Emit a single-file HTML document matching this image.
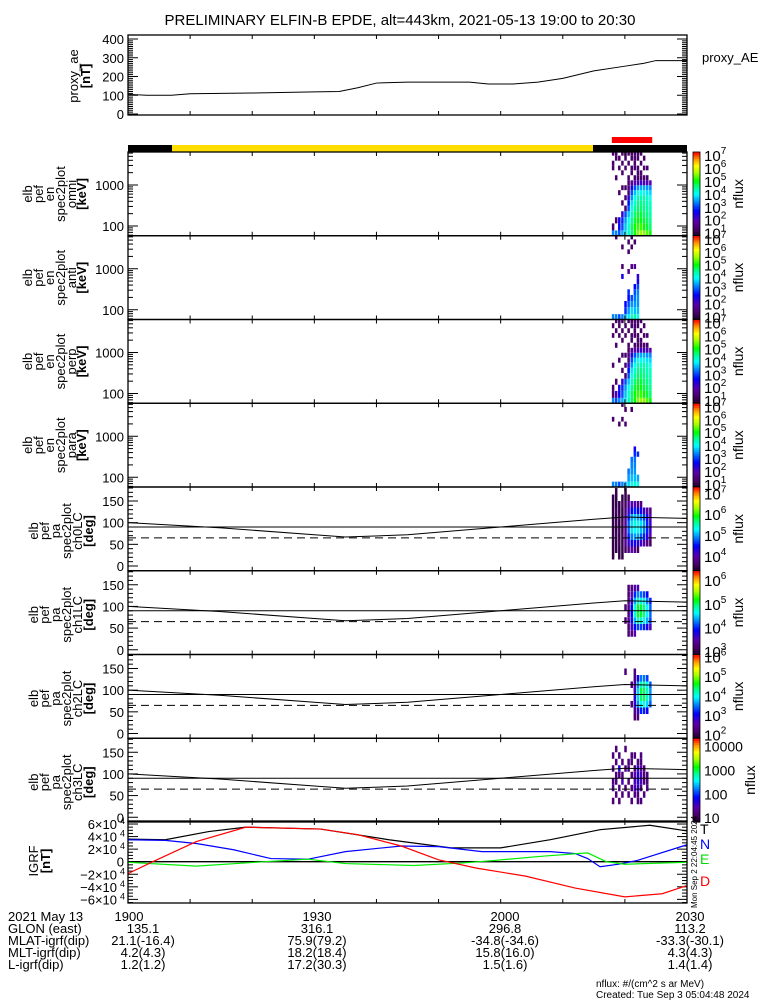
<!DOCTYPE html>
<html><head><meta charset="utf-8"><style>
html,body{margin:0;padding:0;background:#fff;}
svg{display:block;font-family:"Liberation Sans",sans-serif;}
</style></head><body>
<svg id="chart" width="775" height="1000" viewBox="0 0 775 1000" xmlns="http://www.w3.org/2000/svg">
<rect x="0" y="0" width="775" height="1000" fill="#fff"/>
<text x="400" y="25" font-size="15" text-anchor="middle">PRELIMINARY ELFIN-B EPDE, alt=443km, 2021-05-13 19:00 to 20:30</text>
</svg>
<script>
// ---------- data ----------
const aeTimes=[0,3,7,10,20,30,34,37,40,45,55,58,62,66,70,75,80,83,85,90];
const aeValues=[105,100,100,108,112,118,120,140,165,170,170,160,160,170,190,230,255,270,285,285];
const colTimes=[77.9,78.4,78.9,79.4,79.9,80.4,80.9,81.4,81.9,82.4,82.9,83.4,83.9];
const energyBins=[63,97,138,194,271,367,490,650,860,1130,1500,2000,2600,3400,4500,6000];
const omniFlux=[
[3.3,3.3,3.0,3.5,3.8,4.2,4.5,5.0,5.5,5.6,5.5,5.3,5.0],
[1.2,0,2.6,3.0,3.6,4.2,4.6,5.0,5.2,5.2,5.0,4.8,4.6],
[0,1.2,2.4,2.8,3.4,4.0,4.4,4.8,5.0,4.9,4.8,4.6,4.5],
[0,0,0,2.2,3.0,3.6,4.2,4.6,4.8,4.8,4.6,4.5,4.4],
[0,0,0,0,1.2,3.0,4.0,4.4,4.6,4.6,4.5,4.4,4.3],
[0,0,0,1.2,0,2.6,3.8,4.2,4.5,4.5,4.4,4.3,4.2],
[0,0,0,0,1.2,2.2,3.4,4.0,4.3,4.3,4.3,4.2,4.0],
[0,0,1.2,0,0,1.3,3.0,3.6,4.0,4.0,4.0,3.8,3.7],
[0,0,0,1.2,1.2,1.3,2.4,3.0,3.4,3.5,3.5,3.4,3.3],
[0,0,0,0,0,1.2,1.5,1.8,2.0,2.0,2.0,1.9,1.8],
[0,1.2,0,0,0,1.2,0,1.2,1.2,1.2,1.2,1.2,0],
[0,0,0,1.2,0,0,1.2,0,1.2,1.2,0,0,0],
[1.2,0,1.2,0,1.2,0,1.2,1.2,1.2,0,1.2,1.2,0],
[1.2,0,0,1.2,0,1.2,0,1.2,0,1.2,0,0,0],
[0,1.2,1.2,0,1.2,0,1.2,1.2,1.2,0,1.2,0,0],
[1.2,1.2,0,1.2,1.2,1.2,1.2,1.2,1.2,1.2,0,0,0]];
const antiFlux=[
[3.3,3.3,3.0,3.3,3.6,3.8,4.2,4.4,4.0,0,0,0,0],
[0,0,0,0,2.8,3.4,3.8,3.6,3.6,0,0,0,0],
[0,0,0,0,2.6,3.0,3.4,3.4,3.4,0,0,0,0],
[0,0,0,0,0,2.6,3.0,3.2,3.4,0,0,0,0],
[0,0,0,0,0,2.8,0,3.0,3.3,0,0,0,0],
[0,0,0,0,0,0,0,2.6,3.0,0,0,0,0],
[0,0,0,0,0,0,0,0,2.4,0,0,0,0],
[0,0,0,2.4,0,0,0,0,2.2,0,0,0,0],
[0,0,0,0,0,1.5,0,0,0,0,0,0,0],
[0,0,0,1.2,0,0,1.5,1.5,0,0,0,0,0],
[0,0,0,0,0,0,0,0,0,0,0,0,0],
[0,0,0,0,0,0,0,0,0,0,0,0,0],
[0,0,0,0,0,1.2,0,0,0,0,0,0,0],
[0,0,0,1.2,0,0,1.2,0,0,0,0,0,0],
[0,0,0,0,0,1.2,0,1.2,0,0,0,0,0],
[0,1.2,0,0,0,0,1.2,0,0,0,0,0,0]];
const perpFlux=[
[3.3,3.0,3.3,3.5,3.8,4.3,4.6,5.0,5.5,5.6,5.5,5.3,5.0],
[1.2,2.0,2.6,3.0,3.6,4.2,4.6,5.0,5.2,5.2,5.0,4.8,4.6],
[1.2,0,2.4,2.8,3.4,4.0,4.4,4.8,5.0,4.9,4.8,4.6,4.5],
[0,1.2,0,2.2,3.0,3.6,4.2,4.6,4.8,4.8,4.6,4.5,4.4],
[0,0,0,0,1.2,3.0,4.0,4.4,4.6,4.6,4.5,4.4,4.3],
[0,0,0,1.2,0,2.6,3.8,4.2,4.5,4.5,4.4,4.3,4.2],
[1.2,0,0,0,1.2,2.2,3.4,4.0,4.3,4.3,4.3,4.2,4.0],
[0,0,1.2,0,0,1.3,3.0,3.6,4.0,4.0,4.0,3.8,3.7],
[0,0,0,1.2,1.2,1.3,2.4,3.0,3.4,3.5,3.5,3.4,3.3],
[0,0,0,0,0,1.2,1.5,1.8,2.0,2.0,2.0,1.9,1.8],
[0,1.2,0,0,0,1.2,0,1.2,1.2,1.2,1.2,1.2,0],
[0,0,0,1.2,0,0,1.2,0,1.2,1.2,0,0,0],
[1.2,0,1.2,0,1.2,0,1.2,1.2,1.2,0,1.2,1.2,0],
[0,1.2,0,1.2,0,1.2,0,1.2,0,1.2,0,0,0],
[1.2,0,1.2,0,1.2,0,1.2,1.2,1.2,0,1.2,0,0],
[0,1.2,1.2,1.2,0,1.2,1.2,1.2,1.2,1.2,0,0,0]];
const paraFlux=[
[3.3,3.3,3.0,3.3,3.5,3.7,4.0,4.2,4.0,0,0,0,0],
[0,0,0,0,0,3.4,3.6,3.6,3.5,0,0,0,0],
[0,0,0,0,0,3.2,3.4,3.4,0,0,0,0,0],
[0,0,0,0,0,0,3.3,3.3,0,0,0,0,0],
[0,0,0,0,0,0,3.2,3.2,0,0,0,0,0],
[0,0,0,0,0,0,0,2.8,2.8,0,0,0,0],
[0,0,0,0,0,0,0,2.4,0,0,0,0,0],
[0,0,0,0,0,0,0,0,0,0,0,0,0],
[0,0,0,0,0,0,0,0,0,0,0,0,0],
[0,0,0,0,0,0,0,0,0,0,0,0,0],
[0,0,0,0,0,0,0,0,0,0,0,0,0],
[0,0,1.2,0,1.2,0,0,0,0,0,0,0,0],
[1.2,0,0,1.2,0,0,0,0,0,0,0,0,0],
[0,0,0,0,0,0,0,0,0,0,0,0,0],
[0,0,0,0,1.2,0,1.2,0,0,0,0,0,0],
[0,0,0,1.2,0,0,0,0,0,0,0,0,0]];
const paBins=[7.5,22.5,37.5,52.5,67.5,82.5,97.5,112.5,127.5,142.5,157.5,172.5];
const pa0Flux=[
[0,0,0,0,0,0,0,0,0,0,0,0,0],
[3.5,0,3.5,3.5,0,0,0,0,0,0,0,0,0],
[3.5,3.5,3.5,3.5,3.6,3.8,4.0,3.8,3.6,0,0,0,0],
[3.5,3.5,3.6,3.5,3.8,4.2,4.4,4.4,4.3,4.2,4.0,3.8,3.6],
[3.5,3.6,3.5,3.6,3.8,4.6,4.9,5.0,5.0,4.8,4.6,4.3,4.0],
[3.5,3.5,3.6,3.5,3.9,4.8,5.2,5.3,5.3,5.1,4.9,4.6,4.2],
[3.5,3.6,3.5,3.6,3.9,4.8,5.2,5.4,5.3,5.2,5.0,4.6,4.2],
[3.5,3.5,3.6,3.5,3.8,4.6,5.0,5.1,5.0,4.9,4.7,4.4,4.0],
[3.5,3.6,3.5,3.5,3.7,4.2,4.5,4.6,4.5,4.4,4.2,4.0,3.8],
[3.5,3.5,3.5,3.6,3.6,3.9,4.1,4.0,3.9,3.8,0,0,0],
[3.5,3.5,0,3.5,3.5,3.6,0,0,0,0,0,0,0],
[0,3.5,0,0,3.5,0,0,0,0,0,0,0,0]];
const pa1Flux=[
[0,0,0,0,0,0,0,0,0,0,0,0,0],
[0,0,0,0,0,0,0,0,0,0,0,0,0],
[0,0,0,0,0,3.2,3.3,3.5,0,0,0,0,0],
[0,0,0,0,0,3.2,3.6,3.9,4.1,4.1,4.0,3.8,3.6],
[0,0,0,0,3.2,3.3,3.8,4.4,4.8,4.8,4.6,4.4,4.1],
[0,0,0,0,0,3.3,3.9,4.7,5.1,5.1,4.9,4.6,4.2],
[0,0,0,0,3.2,3.3,3.9,4.7,5.1,5.1,4.9,4.6,4.2],
[0,0,0,0,0,3.3,3.7,4.4,4.8,4.7,4.6,4.3,4.0],
[0,0,0,0,0,3.2,3.5,4.0,4.3,4.2,4.1,3.9,0],
[0,0,0,0,0,3.2,3.3,3.4,3.6,0,0,0,0],
[0,0,0,0,0,0,0,0,0,0,0,0,0],
[0,0,0,0,0,0,0,0,0,0,0,0,0]];
const pa2Flux=[
[0,0,0,0,0,0,0,0,0,0,0,0,0],
[0,0,0,0,0,0,0,0,0,0,0,0,0],
[0,0,0,0,0,0,0,2.2,2.3,0,0,0,0],
[0,0,0,0,0,0,0,2.3,2.8,3.2,3.2,3.0,0],
[0,0,0,0,0,0,2.3,2.8,3.6,4.0,4.0,3.8,3.4],
[0,0,0,0,0,0,0,2.8,3.8,4.4,4.4,4.2,3.6],
[0,0,0,0,0,0,0,2.7,3.8,4.5,4.4,4.2,3.6],
[0,0,0,0,0,0,2.3,2.6,3.6,4.2,4.2,4.0,3.4],
[0,0,0,0,0,0,0,2.3,3.0,3.5,3.5,3.3,0],
[0,0,0,0,2.3,0,0,2.3,0,0,0,0,0],
[0,0,0,0,0,0,0,0,0,0,0,0,0],
[0,0,0,0,0,0,0,0,0,0,0,0,0]];
const pa3Flux=[
[0,0,0,0,0,0,0,0,0,0,0,0,0],
[0,0,0,0,0,0,0,0,0,0,0,0,0],
[1.2,0,1.2,0,0,0,1.2,0,1.2,1.2,0,0,0],
[0,1.2,0,1.2,0,1.2,0,1.2,1.2,0,1.2,0,0],
[1.2,0,1.2,0,1.2,0,1.2,1.5,1.6,1.2,0,1.2,0],
[1.2,1.2,0,1.5,0,1.2,0,1.5,1.7,1.5,1.2,1.2,0],
[0,1.2,1.2,1.2,0,0,1.2,1.4,1.7,1.5,1.2,1.2,0],
[1.2,0,1.7,0,1.2,1.2,0,1.2,1.6,1.4,1.2,0,0],
[0,1.2,0,1.2,0,1.2,1.2,0,1.2,1.2,0,0,0],
[1.2,0,1.2,0,0,0,1.2,1.2,0,1.2,0,0,0],
[0,1.2,0,0,1.2,0,0,0,0,0,0,0,0],
[0,0,0,0,0,0,0,0,0,0,0,0,0]];
const lcTimes=[0,15,30,35,45,60,75,80,90];
const lcValues=[100,88,72,67,72,90,108,113,110];
const dashedLC=65;
const igrfTTimes=[0,6,13,19,31,42,52,60,68,76,84,90];
const igrfT=[3.6,3.5,4.8,5.5,5.2,3.5,2.2,2.2,3.5,5.1,5.8,4.9];
const igrfNTimes=[0,6,11,17,23,29,35,44,50,57,68,72,74,76,79,82,90];
const igrfN=[3.5,3.4,2.9,1.9,0.5,0.4,1.6,2.5,2.4,1.6,1.6,1.3,0.5,-0.8,-0.4,0.2,2.7];
const igrfETimes=[0,11,22,29,35,46,54,59,67,74,77,80,90];
const igrfE=[-0.1,-0.7,0,0.4,-0.3,-0.6,-0.2,0.2,0.9,1.4,0,-0.4,-0.1];
const igrfDTimes=[0,4,11,19,31,37,44,50,56,64,72,80,86,90];
const igrfD=[-1.9,0,3.2,5.5,5.2,4.3,2.5,0.3,-1.0,-2.3,-4.2,-5.6,-5.1,-3.8];
const timeLabels=["1900","1930","2000","2030"];
const glonLabels=["135.1","316.1","296.8","113.2"];
const mlatLabels=["21.1(-16.4)","75.9(79.2)","-34.8(-34.6)","-33.3(-30.1)"];
const mltLabels=["4.2(4.3)","18.2(18.4)","15.8(16.0)","4.3(4.3)"];
const lLabels=["1.2(1.2)","17.2(30.3)","1.5(1.6)","1.4(1.4)"];

// ---------- helpers ----------
const svg=document.getElementById('chart');
const NS='http://www.w3.org/2000/svg';
const X0=128,X1=687,TMAX=90;
function xT(t){return X0+(X1-X0)*t/TMAX;}
function mk(tag,attrs,parent){const e=document.createElementNS(NS,tag);for(const k in attrs)e.setAttribute(k,attrs[k]);(parent||svg).appendChild(e);return e;}
function txt(s,x,y,size,anchor,parent,fill){const e=mk('text',{x:x,y:y,'font-size':size||13,'text-anchor':anchor||'start',fill:fill||'#000'},parent);e.textContent=s;return e;}
const stops=[[0,[20,0,30]],[0.08,[70,0,100]],[0.18,[90,0,170]],[0.3,[0,0,255]],[0.42,[0,150,255]],[0.5,[0,255,255]],[0.58,[0,255,150]],[0.66,[0,255,0]],[0.76,[170,255,0]],[0.84,[255,255,0]],[0.92,[255,150,0]],[1,[255,0,0]]];
function cmap(f){f=Math.max(0,Math.min(1,f));for(let i=1;i<stops.length;i++){if(f<=stops[i][0]){const a=stops[i-1],b=stops[i];const u=(f-a[0])/(b[0]-a[0]);const c=a[1].map((v,k)=>Math.round(v+(b[1][k]-v)*u));return 'rgb('+c.join(',')+')';}}return 'rgb(255,0,0)';}
function rotLabel(lines,bases,cy,name,boldLast){
  const g=mk('g',{});
  
  
  lines.forEach((s,i)=>{const t=txt(s,0,0,13,'middle',g);t.setAttribute('transform','translate('+bases[i]+','+cy+') rotate(-90)');if(boldLast&&i===lines.length-1)t.setAttribute('font-weight','bold');});
}
function xTicks(top,bot,g){for(let t=0;t<=90;t+=10){const x=xT(t);mk('line',{x1:x,y1:top,x2:x,y2:top+4,stroke:'#000'},g);mk('line',{x1:x,y1:bot,x2:x,y2:bot-4,stroke:'#000'},g);}}
function frame(top,bot,name){const r=mk('rect',{x:X0,y:top,width:X1-X0,height:bot-top,fill:'none',stroke:'#000','stroke-width':1.3});}

// ---------- proxy AE panel ----------
(function(){
  const top=35,bot=115;const yA=v=>114-v*0.1875;
  const g=mk('g',{});
  
  
  for(let v=0;v<=400;v+=10){const y=yA(v);const L=v%100===0?10:5;mk('line',{x1:X0,y1:y,x2:X0+L,y2:y,stroke:'#000'},g);mk('line',{x1:X1,y1:y,x2:X1-L,y2:y,stroke:'#000'},g);}
  [0,100,200,300,400].forEach(v=>txt(String(v),124,yA(v)+5,13,'end',g));
  xTicks(top,bot,g);
  const pts=aeTimes.map((t,i)=>xT(t)+','+yA(aeValues[i])).join(' ');
  const pl=mk('polyline',{points:pts,fill:'none',stroke:'#000','stroke-width':1},g);
  
  
  frame(top,bot,'proxy-ae-frame');
  const lab=txt('proxy_AE',702,62,13,'start');
  
  
  rotLabel(['proxy_ae','[nT]'],[78,90],76,'proxy-ae-y-title',true);
})();

// ---------- status bars ----------
(function(){
  let r=mk('rect',{x:X0,y:145,width:172-X0,height:7,fill:'#000'});
  r=mk('rect',{x:172,y:145,width:593-172,height:7,fill:'#ffdd00'});
  r=mk('rect',{x:593,y:145,width:X1-593,height:7,fill:'#000'});
  r=mk('rect',{x:xT(colTimes[0]),y:137,width:xT(colTimes[colTimes.length-1]+0.5)-xT(colTimes[0]),height:6,fill:'#ff0000'});
})();

const PH=83.75;
function colorbar(top,h,lo,hi,labels,name,fmtPow){
  const g=mk('g',{});
  
  
  const n=40;for(let i=0;i<n;i++){mk('rect',{x:693,y:top+h-(i+1)*h/n,width:7,height:h/n+0.6,fill:cmap((i+0.5)/n)},g);}
  mk('rect',{x:693,y:top,width:7,height:h,fill:'none',stroke:'#000','stroke-width':0.8},g);
  labels.forEach(p=>{const y=top+h-(p-lo)/(hi-lo)*h;
    if(fmtPow){const t=mk('text',{x:704,y:y+6,'font-size':15},g);t.textContent='10';const s=mk('tspan',{dy:-7,'font-size':10},t);s.textContent=String(p);}
    else txt(String(Math.round(Math.pow(10,p))),704,y+6,14,'start',g);});
  const t=txt('nflux',0,0,14,'middle',g);t.setAttribute('transform','translate('+(fmtPow?743:755)+','+(top+h/2)+') rotate(-90)');
}

// ---------- energy spectrograms ----------
const specPanels=[['omni',omniFlux],['anti',antiFlux],['perp',perpFlux],['para',paraFlux]];
function yE(top,e){return top+33+(3-Math.log10(e))*41;}
specPanels.forEach((p,k)=>{
  const top=152+k*PH,bot=top+PH;
  const g=mk('g',{});
  
  
  const lo=0.6,hi=7.25;
  p[1].forEach((row,i)=>{
    const e=energyBins[i];
    const eLo=i>0?Math.sqrt(e*energyBins[i-1]):e*e/Math.sqrt(e*energyBins[1]);
    const eHi=i<energyBins.length-1?Math.sqrt(e*energyBins[i+1]):Math.sqrt(e*e*e/energyBins[i-1]);
    const y1=Math.max(top,yE(top,eHi)),y2=Math.min(bot,yE(top,eLo));
    row.forEach((v,j)=>{if(!v)return;const x=xT(colTimes[j]);const c=mk('rect',{x:x,y:y1,width:xT(colTimes[j]+0.5)-x-0.6,height:y2-y1,fill:cmap((v-lo)/(hi-lo))},g);
      
      });
  });
  // log ticks
  [50,60,70,80,90,100,200,300,400,500,600,700,800,900,1000,2000,3000,4000,5000,6000].forEach(e=>{const y=yE(top,e);if(y<top||y>bot)return;const L=(e===100||e===1000)?10:5;mk('line',{x1:X0,y1:y,x2:X0+L,y2:y,stroke:'#000'},g);mk('line',{x1:X1,y1:y,x2:X1-L,y2:y,stroke:'#000'},g);});
  txt('1000',124,yE(top,1000)+5,13,'end',g);txt('100',124,yE(top,100)+5,13,'end',g);
  xTicks(top,bot,g);
  frame(top,bot,'spectrogram-'+p[0]+'-frame');
  rotLabel(['elb','pef','en','spec2plot',p[0],'[keV]'],[32,43,54,65,76,86],top+42,'spectrogram-'+p[0]+'-y-title',true);
  colorbar(top,PH,0.75,7.25,[7,6,5,4,3,2,1],'colorbar-'+p[0],true);
});

// ---------- pitch-angle spectrograms ----------
const paPanels=[['ch0LC',pa0Flux,3.3,7.3,[7,6,5,4],true],['ch1LC',pa1Flux,2.85,6.4,[6,5,4,3],true],['ch2LC',pa2Flux,1.8,6.1,[6,5,4,3,2],true],['ch3LC',pa3Flux,0.8,4.3,[4,3,2,1],false]];
paPanels.forEach((p,k)=>{
  const top=152+(4+k)*PH,bot=top+PH;
  const yP=a=>top+79-a*0.4333;
  const g=mk('g',{});
  
  
  p[1].forEach((row,i)=>{const y1=yP(paBins[i]+7.5),y2=yP(paBins[i]-7.5);
    row.forEach((v,j)=>{if(!v)return;const x=xT(colTimes[j]);const c=mk('rect',{x:x,y:y1,width:xT(colTimes[j]+0.5)-x-0.6,height:y2-y1,fill:cmap((v-p[2])/(p[3]-p[2]))},g);
      
      });});
  for(let a=0;a<=180;a+=10){const y=yP(a);const L=a%50===0?10:5;mk('line',{x1:X0,y1:y,x2:X0+L,y2:y,stroke:'#000'},g);mk('line',{x1:X1,y1:y,x2:X1-L,y2:y,stroke:'#000'},g);}
  [0,50,100,150].forEach(a=>txt(String(a),124,yP(a)+5,13,'end',g));
  xTicks(top,bot,g);
  let l=mk('line',{x1:X0,y1:yP(90),x2:X1,y2:yP(90),stroke:'#000'},g);
  l=mk('polyline',{points:lcTimes.map((t,i)=>xT(t)+','+yP(lcValues[i])).join(' '),fill:'none',stroke:'#000'},g);
  l=mk('line',{x1:X0,y1:yP(dashedLC),x2:X1,y2:yP(dashedLC),stroke:'#000','stroke-dasharray':'8,5'},g);
  frame(top,bot,'pitch-angle-'+p[0]+'-frame');
  rotLabel(['elb','pef','pa','spec2plot',p[0],'[deg]'],[38,49,60,71,82,93],top+44,'pitch-angle-'+p[0]+'-y-title',true);
  colorbar(top,PH,p[2],p[3],p[4],'colorbar-'+p[0],p[5]);
});

// ---------- IGRF panel ----------
(function(){
  const top=821,bot=903;const yI=v=>861.7-v*6.28;
  const g=mk('g',{});
  
  
  for(let v=-6.5;v<=6.5;v+=0.5){const y=yI(v);if(y<top||y>bot)continue;const L=Math.abs(v%2)<0.01?10:5;mk('line',{x1:X0,y1:y,x2:X0+L,y2:y,stroke:'#000'},g);mk('line',{x1:X1,y1:y,x2:X1-L,y2:y,stroke:'#000'},g);}
  [6,4,2,0,-2,-4,-6].forEach(v=>{const y=yI(v)+5;if(v===0){txt('0',124,y,13,'end',g);return;}const t=mk('text',{x:117,y:y,'font-size':13,'text-anchor':'end'},g);t.textContent=(v<0?'−':'')+Math.abs(v/2*2)+'×10';const s=txt('4',125,y-5,9,'end',g);});
  xTicks(top,bot,g);
  mk('line',{x1:X0,y1:yI(0),x2:X1,y2:yI(0),stroke:'#000','stroke-width':1.3},g);
  [['T',igrfTTimes,igrfT,'#000'],['N',igrfNTimes,igrfN,'#0000ff'],['E',igrfETimes,igrfE,'#00ee00'],['D',igrfDTimes,igrfD,'#ff0000']].forEach(s=>{
    const pl=mk('polyline',{points:s[1].map((t,i)=>xT(t)+','+yI(s[2][i])).join(' '),fill:'none',stroke:s[3],'stroke-width':1.2},g);
    
    
  });
  frame(top,bot,'igrf-frame');
  rotLabel(['IGRF','[nT]'],[38,50],861,'igrf-y-title',true);
  [['T','#000',834],['N','#0000ff',849],['E','#00dd00',864],['D','#ff0000',886]].forEach(l=>{const t=txt(l[0],700,l[2],14,'start',null,l[1]);});
  const st=txt('Mon Sep  2 22:04:45 2024',0,0,8,'middle');st.setAttribute('transform','translate(697,862) rotate(-90)');
  
})();

// ---------- bottom annotation ----------
(function(){
  const g=mk('g',{});
  
  
  const rows=[['2021 May 13',timeLabels,921],['GLON (east)',glonLabels,933],['MLAT-igrf(dip)',mlatLabels,945],['MLT-igrf(dip)',mltLabels,957],['L-igrf(dip)',lLabels,969]];
  const cx=[145,317,505,690];
  rows.forEach((r,ri)=>{txt(r[0],8,r[2],13,'start',g);r[1].forEach((s,i)=>{const x=(ri===0&&i===0)?129:(i===0?143:cx[i]);txt(s,x,r[2],13,'middle',g);});});
  txt('nflux: #/(cm^2 s ar MeV)',596,987,10,'start',g);
  txt('Created: Tue Sep  3 05:04:48 2024',596,998,10,'start',g);
})();
</script>
</body></html>
